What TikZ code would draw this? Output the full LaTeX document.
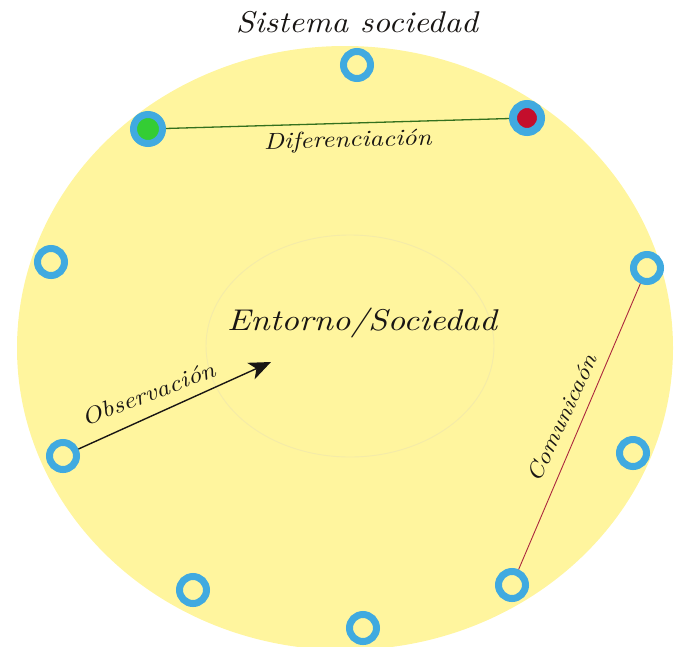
\documentclass[tikz,border=0pt]{standalone}
\usepackage{fontspec}
\usetikzlibrary{arrows.meta}

% wide italic lettering
\newfontfamily\wideitA{lmroman10-italic.otf}[FakeStretch=1.10]
\newfontfamily\wideitB{lmroman10-italic.otf}[FakeStretch=1.15]

\definecolor{sheetYellow}{RGB}{255,245,158}
\definecolor{innerLine}{RGB}{244,235,168}
\definecolor{ringBlue}{RGB}{64,170,224}
\definecolor{fillGreen}{RGB}{52,205,52}
\definecolor{fillRed}{RGB}{196,14,44}
\definecolor{diffLine}{RGB}{52,112,30}
\definecolor{comLine}{RGB}{172,40,62}
\definecolor{inkDark}{RGB}{25,22,20}

\tikzset{
  ring/.style={circle, draw=ringBlue, line width=7pt, fill=sheetYellow,
               minimum size=27pt, inner sep=0pt},
  greendot/.style={circle, draw=ringBlue, line width=7pt, fill=fillGreen,
               minimum size=29pt, inner sep=0pt},
  reddot/.style={circle, draw=ringBlue, line width=8pt, fill=fillRed,
               minimum size=28pt, inner sep=0pt},
  caption/.style={text=inkDark, inner sep=0pt},
}

\begin{document}
\begin{tikzpicture}[x=1pt,y=1pt]
  \useasboundingbox (0,0) rectangle (674,-646);

  % the society system and its environment
  \fill[sheetYellow] (345,-348) ellipse [x radius=328, y radius=302];
  \draw[innerLine, line width=0.9pt] (350,-346) ellipse [x radius=144, y radius=111];

  % title
  \node[caption, anchor=base, font={\wideitA\fontsize{30}{32}\selectfont}]
    (title) at (357,-32) {Sistema sociedad};

  % centre label
  \node[caption, anchor=base, font={\wideitB\fontsize{30}{32}\selectfont}]
    (entorno) at (362,-330) {Entorno/Sociedad};

  % elements on the boundary
  \node[ring] (top)   at (357,-65)  {};
  \node[ring] (left)  at (51,-262)  {};
  \node[ring] (obs)   at (63,-456)  {};
  \node[ring] (botl)  at (193,-590) {};
  \node[ring] (bot)   at (363,-628) {};
  \node[ring] (botr)  at (512,-585) {};
  \node[ring] (rlow)  at (633,-453) {};
  \node[ring] (rup)   at (647,-268) {};
  \node[greendot] (green) at (148,-129) {};
  \node[reddot]   (red)   at (527,-118) {};

  % differentiation
  \draw[diffLine, line width=1.3pt] (green) -- (red);
  \node[caption, anchor=base, rotate=1.5, font={\wideitB\fontsize{23}{26}\selectfont}]
    (difl) at (348,-147) {Diferenciación};

  % observation
  \coordinate (tip) at (271,-362);
  \draw[inkDark, line width=1.4pt,
        -{Stealth[length=22pt, width=18pt, inset=6pt]}] (obs) -- (tip);
  \node[caption, anchor=base, rotate=21, font={\wideitB\fontsize{23}{26}\selectfont}]
    (obsl) at (151,-401) {Observación};

  % communication
  \draw[comLine, line width=0.9pt] (rup) -- (botr);
  \node[caption, rotate=65, font={\wideitB\fontsize{22}{26}\selectfont}]
    (coml) at (562,-418) {Comunicaón};
\end{tikzpicture}
\end{document}
